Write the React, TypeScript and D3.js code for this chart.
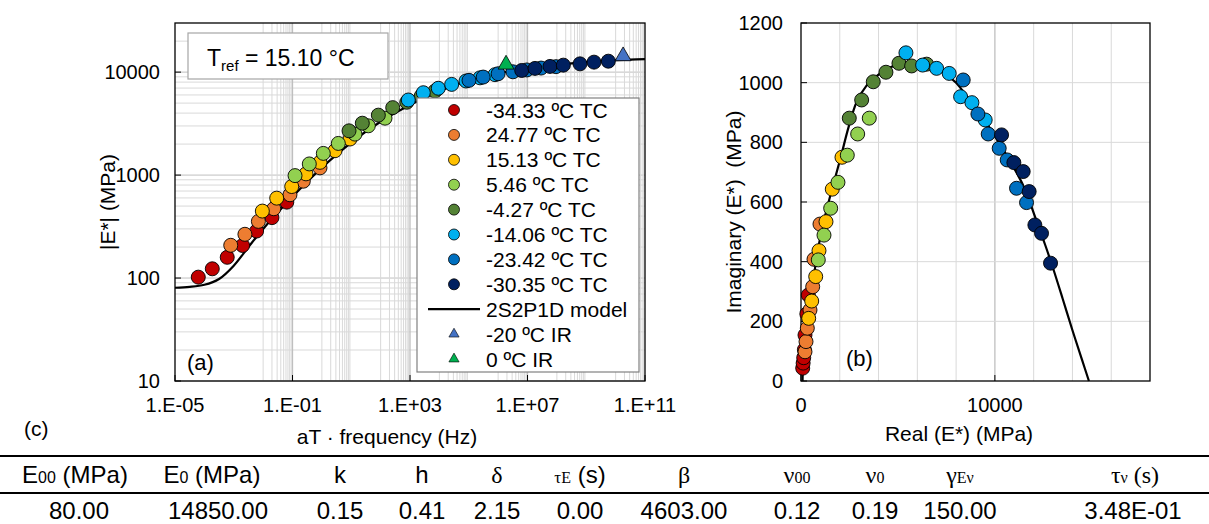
import React from 'react';
import * as d3 from 'd3';

const W = 1209;
const H = 524;

// ---------- Series metadata ----------
const seriesNames = ['-34.33 ºC TC', '24.77 ºC TC', '15.13 ºC TC', '5.46 ºC TC', '-4.27 ºC TC', '-14.06 ºC TC', '-23.42 ºC TC', '-30.35 ºC TC'];
const seriesColors = ['#C00000', '#ED7D31', '#FFC000', '#92D050', '#548235', '#00B0F0', '#0070C0', '#002060'];

// ---------- (a) |E*| vs reduced frequency ----------
const freqS1 = [6.2e-5, 1.86e-4, 6.0e-4, 2.0e-3, 6.0e-3, 2.0e-2, 6.4e-2];
const modS1 = [102, 123, 159, 207, 286, 386, 546];
const freqS2 = [7.9e-4, 2.4e-3, 6.9e-3, 2.3e-2, 8.2e-2, 0.233, 0.863];
const modS2 = [208, 266, 355, 471, 644, 872, 1175];
const freqS3 = [9.4e-3, 2.9e-2, 9.4e-2, 0.288, 0.863, 2.8, 9.06];
const modS3 = [447, 597, 774, 1028, 1330, 1725, 2240];
const freqS4 = [0.122, 0.373, 1.12, 3.63, 13.4, 38.1, 141];
const modS4 = [988, 1283, 1624, 2030, 2500, 3010, 3570];
const freqS5 = [8.4, 23.8, 83.6, 258, 776, 2400, 7080];
const modS5 = [2690, 3190, 3820, 4520, 5100, 5850, 6550];
const freqS6 = [875, 2840, 9180, 26200, 80500, 241600, 783000];
const modS6 = [5360, 6310, 6970, 7600, 8200, 8800, 9450];
const freqS7 = [1.02e5, 3.1e5, 1.0e6, 3.2e6, 9.5e6, 2.9e7, 9.3e7];
const modS7 = [8320, 8950, 9640, 10070, 10500, 10950, 11300];
const freqS8 = [6.35e6, 1.8e7, 5.83e7, 1.66e8, 6.12e8, 1.84e9, 5.64e9];
const modS8 = [10380, 10870, 11360, 11690, 12030, 12500, 12770];

const freqIRm20 = [1.8e10];
const modIRm20 = [14300];
const freqIR0 = [1.86e6];
const modIR0 = [11860];

const modelFreq = [1e-5, 3.16e-5, 1e-4, 3.16e-4, 1e-3, 3.16e-3, 1e-2, 3.16e-2, 1e-1, 3.16e-1, 1, 3.16, 10, 31.6, 100, 316, 1e3, 3.16e3, 1e4, 3.16e4, 1e5, 3.16e5, 1e6, 3.16e6, 1e7, 3.16e7, 1e8, 3.16e8, 1e9, 3.16e9, 1e10, 3.16e10, 1e11];
const modelMod = [80.5, 82, 86, 98, 132, 200, 300, 435, 615, 860, 1180, 1580, 2070, 2650, 3300, 4020, 4800, 5650, 6520, 7400, 8250, 9020, 9720, 10320, 10870, 11360, 11800, 12150, 12500, 12800, 13050, 13250, 13400];

const xTickValuesA = [1e-5, 1e-1, 1e3, 1e7, 1e11];
const xTickLabelsA = ['1.E-05', '1.E-01', '1.E+03', '1.E+07', '1.E+11'];
const yTickValuesA = [10, 100, 1000, 10000];
const yTickLabelsA = ['10', '100', '1000', '10000'];

// ---------- (b) Cole-Cole ----------
const reS1 = [88, 110, 140, 175, 206, 300, 376];
const imS1 = [43, 60, 78, 105, 154, 225, 288];
const reS2 = [206, 258, 325, 464, 603, 670, 979];
const imS2 = [98, 132, 177, 238, 316, 408, 526];
const reS3 = [397, 552, 758, 928, 1289, 1613, 2113];
const imS3 = [210, 268, 350, 437, 534, 643, 750];
const reS4 = [892, 1186, 1531, 1907, 2387, 2923, 3521];
const imS4 = [406, 489, 579, 666, 757, 828, 881];
const reS5 = [2490, 3129, 3727, 4381, 5052, 5706, 6479];
const imS5 = [881, 942, 1003, 1035, 1065, 1056, 1062];
const reS6 = [5412, 6273, 6994, 7644, 8232, 8814, 9500];
const imS6 = [1100, 1059, 1048, 1031, 953, 933, 875];
const reS7 = [8366, 9124, 9655, 10222, 10634, 11117, 11632];
const imS7 = [1009, 895, 828, 780, 741, 646, 598];
const reS8 = [10345, 10979, 11460, 11768, 12062, 12405, 12870];
const imS8 = [825, 732, 702, 635, 523, 495, 395];

const modelRe = [80, 100, 150, 220, 320, 460, 650, 900, 1250, 1650, 2050, 2450, 2870, 3380, 3900, 4500, 5200, 5900, 6600, 7300, 8000, 8700, 9400, 10100, 10800, 11500, 12100, 12600, 13000, 13500, 14000, 14500, 14850];
const modelIm = [0, 45, 85, 130, 185, 255, 345, 450, 555, 655, 750, 850, 935, 990, 1022, 1048, 1064, 1066, 1055, 1035, 1000, 940, 880, 810, 735, 650, 545, 455, 378, 275, 170, 70, 0];

const xTickValuesB = [0, 10000];
const yTickValuesB = [0, 200, 400, 600, 800, 1000, 1200];

// ---------- (c) table ----------
const paramValues = ['80.00', '14850.00', '0.15', '0.41', '2.15', '0.00', '4603.00', '0.12', '0.19', '150.00', '3.48E-01'];

const freqs = [freqS1, freqS2, freqS3, freqS4, freqS5, freqS6, freqS7, freqS8];
const mods = [modS1, modS2, modS3, modS4, modS5, modS6, modS7, modS8];
const res = [reS1, reS2, reS3, reS4, reS5, reS6, reS7, reS8];
const ims = [imS1, imS2, imS3, imS4, imS5, imS6, imS7, imS8];

const SANS = "'Liberation Sans', Arial, sans-serif";
const SERIF = "'Liberation Serif', 'Times New Roman', serif";

export default function App() {
  const xA = d3.scaleLog().domain([1e-5, 1e11]).range([175, 645]);
  const yA = d3.scaleLog().domain([10, 30000]).range([381, 23]);
  const xB = d3.scaleLinear().domain([0, 18000]).range([801, 1150]);
  const yB = d3.scaleLinear().domain([0, 1200]).range([381, 23]);

  const vMinor: number[] = [];
  [-2, 0, 2, 4, 6, 8, 10].forEach((d) => {
    for (let k = 1; k <= 9; k++) vMinor.push(k * Math.pow(10, d));
  });
  const hMinor: number[] = [];
  [1, 2, 3, 4].forEach((d) => {
    for (let k = 1; k <= 9; k++) {
      const v = k * Math.pow(10, d);
      if (v < 30000) hMinor.push(v);
    }
  });

  const lineA = d3
    .line<number>()
    .x((_, i) => xA(modelFreq[i]))
    .y((d) => yA(d))
    .curve(d3.curveCatmullRom.alpha(0.5));
  const lineB = d3
    .line<number>()
    .x((_, i) => xB(modelRe[i]))
    .y((d) => yB(d))
    .curve(d3.curveCatmullRom.alpha(0.5));

  const tri = (size: number) => d3.symbol(d3.symbolTriangle, size)() || '';

  const gridCol = '#D9D9D9';
  const gridMajor = '#BFBFBF';

  const legX = 417, legY = 98, legW = 222, legH = 274;
  const legStep = 24.9;
  const legRow0 = 110;

  const colX = [75, 212, 340, 422, 497, 580, 684, 797, 875, 960, 1135];
  const valX = [79, 218, 340, 422, 497, 580, 684, 797, 875, 960, 1133];
  const headY = 483;
  const valY = 519;
  const TF = 24;
  const SF = 16;

  return (
    <div style={{ position: 'absolute', left: 0, top: 0 }}>
      <svg width={W} height={H} style={{ display: 'block', background: '#fff' }} fontFamily={SANS}>
        <rect x={0} y={0} width={W} height={H} fill="#fff" />

        {/* ================= (a) ================= */}
        <g>
          {hMinor.map((v, i) => (
            <line key={'ha' + i} x1={175} x2={645} y1={yA(v)} y2={yA(v)} stroke={[10, 100, 1000, 10000].includes(v) ? gridMajor : gridCol} strokeWidth={1} />
          ))}
          {vMinor.map((v, i) => (
            <line key={'va' + i} x1={xA(v)} x2={xA(v)} y1={23} y2={381} stroke={gridCol} strokeWidth={1} />
          ))}
          {[1e-1, 1e3, 1e7].map((v, i) => (
            <line key={'vm' + i} x1={xA(v)} x2={xA(v)} y1={23} y2={381} stroke={gridMajor} strokeWidth={1.3} />
          ))}
          <rect x={175} y={23} width={470} height={358} fill="none" stroke="#000" strokeWidth={1.3} />
          {yTickValuesA.map((v, i) => (
            <g key={'yta' + i}>
              <line x1={175} x2={181} y1={yA(v)} y2={yA(v)} stroke="#000" />
              <text x={160} y={yA(v) + 7} fontSize={20} textAnchor="end" fill="#000">{yTickLabelsA[i]}</text>
            </g>
          ))}
          {xTickValuesA.map((v, i) => (
            <g key={'xta' + i}>
              <line x1={xA(v)} x2={xA(v)} y1={381} y2={375} stroke="#000" />
              <text x={xA(v)} y={412} fontSize={20} textAnchor="middle" fill="#000">{xTickLabelsA[i]}</text>
            </g>
          ))}
          <text x={387} y={444} fontSize={21} textAnchor="middle" fill="#000">aT · frequency (Hz)</text>
          <text transform="translate(115,202) rotate(-90)" fontSize={21} textAnchor="middle" fill="#000">|E*| (MPa)</text>

          <path d={lineA(modelMod) || ''} fill="none" stroke="#000" strokeWidth={2.2} />

          {freqs.map((fs, s) =>
            fs.map((f, i) => (
              <circle key={'pa' + s + '-' + i} cx={xA(f)} cy={yA(mods[s][i])} r={7} fill={seriesColors[s]} stroke="#000" strokeWidth={0.9} />
            ))
          )}
          {freqIRm20.map((f, i) => (
            <path key={'ir20' + i} d={tri(110)} transform={`translate(${xA(f)},${yA(modIRm20[i])})`} fill="#4472C4" stroke="#000" strokeWidth={0.8} />
          ))}
          {freqIR0.map((f, i) => (
            <path key={'ir0' + i} d={tri(110)} transform={`translate(${xA(f)},${yA(modIR0[i])})`} fill="#00B050" stroke="#000" strokeWidth={0.8} />
          ))}

          <rect x={188} y={33} width={200} height={46} fill="#fff" stroke="#A6A6A6" strokeWidth={1.2} />
          <text x={207} y={66} fontSize={23} fill="#000">
            T<tspan fontSize={15} dy={5}>ref</tspan>
            <tspan dy={-5}> = 15.10 °C</tspan>
          </text>

          <text x={187} y={370} fontSize={22} fill="#000">(a)</text>

          <rect x={legX} y={legY} width={legW} height={legH} fill="#fff" stroke="#808080" strokeWidth={1.2} />
          {seriesNames.map((n, i) => (
            <g key={'lg' + i}>
              <circle cx={454} cy={legRow0 + i * legStep} r={5.5} fill={seriesColors[i]} stroke="#000" strokeWidth={0.8} />
              <text x={486} y={legRow0 + i * legStep + 7.5} fontSize={21} fill="#000">{n}</text>
            </g>
          ))}
          <line x1={428} x2={480} y1={legRow0 + 8 * legStep} y2={legRow0 + 8 * legStep} stroke="#000" strokeWidth={2.2} />
          <text x={486} y={legRow0 + 8 * legStep + 7.5} fontSize={21} fill="#000">2S2P1D model</text>
          <path d={tri(45)} transform={`translate(454,${legRow0 + 9 * legStep})`} fill="#4472C4" stroke="#000" strokeWidth={0.6} />
          <text x={486} y={legRow0 + 9 * legStep + 7.5} fontSize={21} fill="#000">-20 ºC IR</text>
          <path d={tri(45)} transform={`translate(454,${legRow0 + 10 * legStep})`} fill="#00B050" stroke="#000" strokeWidth={0.6} />
          <text x={486} y={legRow0 + 10 * legStep + 7.5} fontSize={21} fill="#000">0 ºC IR</text>
        </g>

        {/* ================= (b) ================= */}
        <g>
          {d3.range(2000, 18000, 2000).map((v, i) => (
            <line key={'vb' + i} x1={xB(v)} x2={xB(v)} y1={23} y2={381} stroke={v === 10000 ? gridMajor : gridCol} strokeWidth={v === 10000 ? 1.3 : 1} />
          ))}
          {d3.range(200, 1200, 200).map((v, i) => (
            <line key={'hb' + i} x1={801} x2={1150} y1={yB(v)} y2={yB(v)} stroke={gridCol} strokeWidth={1} />
          ))}
          <rect x={801} y={23} width={349} height={358} fill="none" stroke="#000" strokeWidth={1.3} />
          {yTickValuesB.map((v, i) => (
            <g key={'ytb' + i}>
              <line x1={801} x2={807} y1={yB(v)} y2={yB(v)} stroke="#000" />
              <text x={783} y={yB(v) + 7} fontSize={20} textAnchor="end" fill="#000">{String(v)}</text>
            </g>
          ))}
          {xTickValuesB.map((v, i) => (
            <g key={'xtb' + i}>
              <line x1={xB(v)} x2={xB(v)} y1={381} y2={375} stroke="#000" />
              <text x={xB(v)} y={412} fontSize={20} textAnchor="middle" fill="#000">{String(v)}</text>
            </g>
          ))}
          <text x={959} y={441} fontSize={21} textAnchor="middle" fill="#000">Real (E*) (MPa)</text>
          <text transform="translate(741,212) rotate(-90)" fontSize={21} textAnchor="middle" fill="#000" style={{ whiteSpace: 'pre' }}>Imaginary (E*)  (MPa)</text>

          <path d={lineB(modelIm) || ''} fill="none" stroke="#000" strokeWidth={2.2} />

          {res.map((rs, s) =>
            rs.map((r, i) => (
              <circle key={'pb' + s + '-' + i} cx={xB(r)} cy={yB(ims[s][i])} r={7} fill={seriesColors[s]} stroke="#000" strokeWidth={0.9} />
            ))
          )}
          <text x={846} y={366} fontSize={22} fill="#000">(b)</text>
        </g>

        {/* ================= (c) table ================= */}
        <g>
          <text x={24} y={436} fontSize={21} fill="#000">(c)</text>
          <line x1={0} x2={W} y1={456} y2={456} stroke="#000" strokeWidth={2} />
          <line x1={0} x2={W} y1={493} y2={493} stroke="#000" strokeWidth={2} />

          <text x={colX[0]} y={headY} fontSize={TF} textAnchor="middle" fill="#000">
            E<tspan fontSize={SF}>00</tspan><tspan> (MPa)</tspan>
          </text>
          <text x={colX[1]} y={headY} fontSize={TF} textAnchor="middle" fill="#000">
            E<tspan fontSize={SF}>0</tspan><tspan> (MPa)</tspan>
          </text>
          <text x={colX[2]} y={headY} fontSize={TF} textAnchor="middle" fill="#000">k</text>
          <text x={colX[3]} y={headY} fontSize={TF} textAnchor="middle" fill="#000">h</text>
          <text x={colX[4]} y={headY} fontSize={TF} textAnchor="middle" fill="#000" fontFamily={SERIF}>δ</text>
          <text x={colX[5]} y={headY} fontSize={TF} textAnchor="middle" fill="#000">
            <tspan fontFamily={SERIF} fontSize={17}>τ</tspan><tspan fontFamily={SERIF} fontSize={SF}>E</tspan><tspan> (s)</tspan>
          </text>
          <text x={colX[6]} y={headY} fontSize={TF} textAnchor="middle" fill="#000" fontFamily={SERIF}>β</text>
          <text x={colX[7]} y={headY} fontSize={TF} textAnchor="middle" fill="#000" fontFamily={SERIF}>
            ν<tspan fontSize={SF}>00</tspan>
          </text>
          <text x={colX[8]} y={headY} fontSize={TF} textAnchor="middle" fill="#000" fontFamily={SERIF}>
            ν<tspan fontSize={SF}>0</tspan>
          </text>
          <text x={colX[9]} y={headY} fontSize={TF} textAnchor="middle" fill="#000" fontFamily={SERIF}>
            γ<tspan fontSize={SF}>Eν</tspan>
          </text>
          <text x={colX[10]} y={headY} fontSize={TF} textAnchor="middle" fill="#000" fontFamily={SERIF}>
            τ<tspan fontSize={SF}>ν</tspan><tspan> (s)</tspan>
          </text>

          {paramValues.map((v, i) => (
            <text key={'pv' + i} x={valX[i]} y={valY} fontSize={TF} textAnchor="middle" fill="#000">{v}</text>
          ))}
        </g>
      </svg>
    </div>
  );
}
